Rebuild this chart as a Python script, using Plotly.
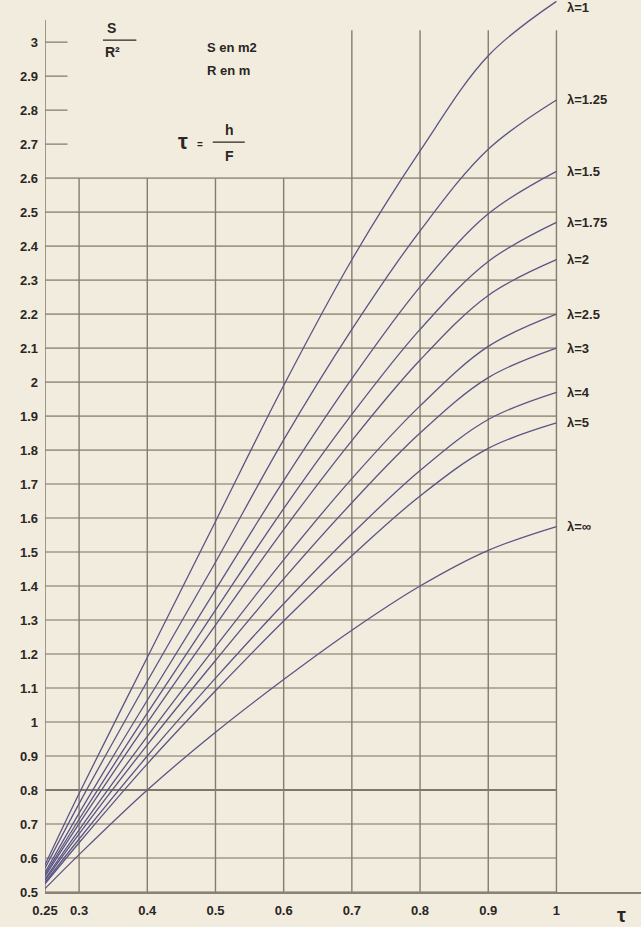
import plotly.graph_objects as go

# Relative filling tau = h/F (x) and S/R^2 (y) for each lambda
tau = [0.25, 0.3, 0.4, 0.5, 0.6, 0.7, 0.8, 0.9, 1.0]

lam_labels = ["λ=1", "λ=1.25", "λ=1.5", "λ=1.75", "λ=2", "λ=2.5", "λ=3", "λ=4", "λ=5", "λ=∞"]

s_l1 = [0.58, 0.79, 1.19, 1.59, 1.99, 2.36, 2.68, 2.96, 3.12]
s_l125 = [0.57, 0.76, 1.12, 1.47, 1.83, 2.155, 2.445, 2.685, 2.83]
s_l15 = [0.557, 0.732, 1.064, 1.389, 1.71, 2.01, 2.28, 2.495, 2.62]
s_l175 = [0.551, 0.714, 1.026, 1.329, 1.628, 1.905, 2.155, 2.355, 2.47]
s_l2 = [0.546, 0.701, 0.998, 1.285, 1.566, 1.828, 2.065, 2.255, 2.36]
s_l25 = [0.538, 0.683, 0.958, 1.221, 1.477, 1.716, 1.93, 2.105, 2.20]
s_l3 = [0.534, 0.671, 0.933, 1.181, 1.421, 1.645, 1.85, 2.013, 2.10]
s_l4 = [0.528, 0.656, 0.90, 1.129, 1.348, 1.553, 1.74, 1.89, 1.97]
s_l5 = [0.524, 0.645, 0.877, 1.092, 1.297, 1.489, 1.665, 1.805, 1.88]
s_linf = [0.51, 0.61, 0.80, 0.97, 1.125, 1.27, 1.40, 1.505, 1.575]

series = [s_l1, s_l125, s_l15, s_l175, s_l2, s_l25, s_l3, s_l4, s_l5, s_linf]

x_ticks = [0.25, 0.3, 0.4, 0.5, 0.6, 0.7, 0.8, 0.9, 1.0]
x_ticktext = ["0.25", "0.3", "0.4", "0.5", "0.6", "0.7", "0.8", "0.9", "1"]
y_ticks = [round(0.5 + 0.1 * i, 1) for i in range(26)]
y_ticktext = ["<b>%g</b>" % v for v in y_ticks]
grid_rows = [v for v in y_ticks if v <= 2.6]
grid_cols_short = [0.3, 0.4, 0.5, 0.6]
grid_cols_tall = [0.7, 0.8, 0.9, 1.0]
top_ticks = [2.7, 2.8, 2.9, 3.0]

Y_TOP = 3.124
BG = "#F2ECDF"
GRID_H = "#A39988"
GRID_V = "#847C70"
CURVE = "#5A5584"
TEXT = "#2A2622"
FONT = "Liberation Sans, Arial, sans-serif"

fig = go.Figure()

shapes = []
# horizontal grid
for v in grid_rows:
    dark = abs(v - 0.8) < 1e-9
    shapes.append(dict(type="line", xref="x", yref="y", x0=0.25, x1=1.0, y0=v, y1=v,
                       line=dict(color="#7F776B" if dark else GRID_H, width=2 if dark else 1.6),
                       layer="below"))
# vertical grid
for c in grid_cols_short:
    shapes.append(dict(type="line", xref="x", yref="y", x0=c, x1=c, y0=0.5, y1=2.6,
                       line=dict(color=GRID_V, width=1.4), layer="below"))
for c in grid_cols_tall:
    shapes.append(dict(type="line", xref="x", yref="y", x0=c, x1=c, y0=0.5, y1=3.035,
                       line=dict(color=GRID_V, width=1.4), layer="below"))
# short ticks on the upper part of the vertical axis
for v in top_ticks:
    shapes.append(dict(type="line", xref="x", yref="y", x0=0.25, x1=0.283, y0=v, y1=v,
                       line=dict(color="#8E8679", width=1.4), layer="below"))
# vertical axis line
shapes.append(dict(type="line", xref="x", yref="y", x0=0.25, x1=0.25, y0=0.5, y1=3.065,
                   line=dict(color="#8A8276", width=1.6), layer="below"))
# fraction bars in the header formulas
shapes.append(dict(type="line", xref="x", yref="y", x0=0.335, x1=0.384, y0=3.006, y1=3.006,
                   line=dict(color=TEXT, width=1.4)))
shapes.append(dict(type="line", xref="x", yref="y", x0=0.496, x1=0.543, y0=2.706, y1=2.706,
                   line=dict(color=TEXT, width=1.4)))

for name, ys in zip(lam_labels, series):
    fig.add_trace(go.Scatter(x=tau, y=ys, mode="lines", name=name,
                             line=dict(color=CURVE, width=1.3, shape="spline", smoothing=1.0),
                             hoverinfo="skip"))

annotations = []
for name, ys in zip(lam_labels, series):
    # keep the top label inside the page
    shift = -6 if ys[-1] > Y_TOP - 0.02 else 0
    annotations.append(dict(x=tau[-1], y=ys[-1], xref="x", yref="y", text="<b>%s</b>" % name,
                            showarrow=False, xanchor="left", yanchor="middle", xshift=9,
                            yshift=shift,
                            font=dict(family=FONT, size=13, color=TEXT)))

def note(x, y, text, size=12, anchor="center"):
    annotations.append(dict(x=x, y=y, xref="x", yref="y", text=text, showarrow=False,
                            xanchor=anchor, yanchor="middle",
                            font=dict(family=FONT, size=size, color=TEXT)))

note(0.348, 3.041, "<b>S</b>", 14)
note(0.349, 2.970, "<b>R²</b>", 14)
note(0.484, 2.985, "<b>S en m2</b>", 13, "left")
note(0.484, 2.918, "<b>R en m</b>", 13, "left")
note(0.452, 2.709, "<b>τ</b>", 22)
note(0.478, 2.700, "<b>=</b>", 10)
note(0.521, 2.742, "<b>h</b>", 14)
note(0.520, 2.666, "<b>F</b>", 14)

# axis symbol at the end of the horizontal axis
annotations.append(dict(x=1.096, y=0, xref="x", yref="paper", text="<b>τ</b>", showarrow=False,
                        xanchor="center", yanchor="top", yshift=-10,
                        font=dict(family=FONT, size=20, color=TEXT)))

fig.update_layout(
    width=641, height=927,
    margin=dict(l=45, r=0, t=0, b=35),
    paper_bgcolor=BG, plot_bgcolor=BG,
    showlegend=False,
    shapes=shapes,
    annotations=annotations,
    xaxis=dict(range=[0.25, 1.124], tickmode="array", tickvals=x_ticks,
               ticktext=["<b>%s</b>" % t for t in x_ticktext],
               showgrid=False, zeroline=False, showline=True, linecolor="#8A8276", linewidth=1.6,
               ticks="", ticklabelstandoff=6,
               tickfont=dict(family=FONT, size=13, color=TEXT), fixedrange=True),
    yaxis=dict(range=[0.5, Y_TOP], tickmode="array", tickvals=y_ticks, ticktext=y_ticktext,
               showgrid=False, zeroline=False, showline=False,
               ticks="", ticklabelstandoff=6,
               tickfont=dict(family=FONT, size=13, color=TEXT), fixedrange=True),
)

fig.write_html("out.html")
